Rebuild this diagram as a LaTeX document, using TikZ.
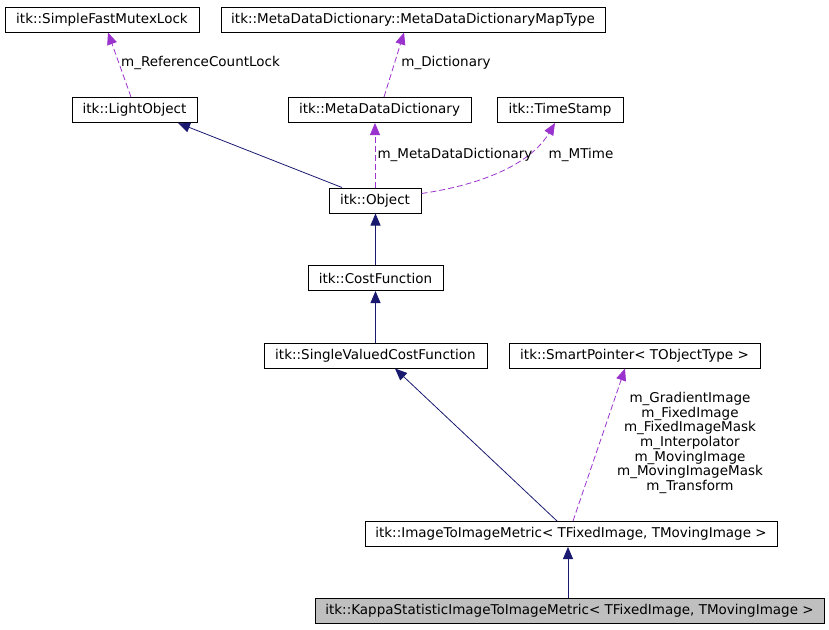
\documentclass[tikz,border=0pt]{standalone}
\usepackage{fontspec}
\setmainfont{DejaVu Sans}
\usetikzlibrary{arrows.meta}
\definecolor{navy}{HTML}{191970}
\definecolor{purp}{HTML}{9A32CD}
\definecolor{boxgray}{HTML}{BFBFBF}
\begin{document}
\begin{tikzpicture}[x=1pt,y=-1pt,
  cls/.style={draw=black, line width=1pt, inner sep=0pt, minimum height=25pt, font=\fontsize{13.5}{15}\selectfont, fill=white},
  inh/.style={draw=navy, line width=0.8pt, -{Triangle[length=12pt,width=10pt]}},
  use/.style={draw=purp, line width=0.8pt, dash pattern=on 6pt off 3pt, -{Triangle[length=12pt,width=10pt]}},
  lbl/.style={font=\fontsize{13.5}{14.7}\selectfont, inner sep=0pt, align=center}]
\useasboundingbox (0,0) rectangle (829,629);
\node[cls, minimum width=194pt] (sfml) at (102,19.5) {itk::SimpleFastMutexLock};
\node[cls, minimum width=384pt] (mapt) at (413,19.5) {itk::MetaDataDictionary::MetaDataDictionaryMapType};
\node[cls, minimum width=125pt] (lo) at (134.5,110) {itk::LightObject};
\node[cls, minimum width=183pt] (mdd) at (379.5,110) {itk::MetaDataDictionary};
\node[cls, minimum width=126pt] (ts) at (560,110) {itk::TimeStamp};
\node[cls, minimum width=92pt] (obj) at (375,200.5) {itk::Object};
\node[cls, minimum width=135pt] (cf) at (375.5,278) {itk::CostFunction};
\node[cls, minimum width=223pt] (svcf) at (375.5,355.5) {itk::SingleValuedCostFunction};
\node[cls, minimum width=251pt] (sp) at (634.5,355.5) {itk::SmartPointer< TObjectType >};
\node[cls, minimum width=412pt] (itim) at (571,534) {itk::ImageToImageMetric< TFixedImage, TMovingImage >};
\node[cls, minimum width=509pt, fill=boxgray] (kappa) at (569.5,611) {itk::KappaStatisticImageToImageMetric< TFixedImage, TMovingImage >};
% connectors
\draw[use] ([xshift=-3.5pt]lo.north) -- ([xshift=6pt]sfml.south);
\draw[use] ([xshift=4.5pt]mdd.north) -- ([xshift=-9pt]mapt.south);
\draw[inh] ([xshift=-33pt]obj.north) -- ([xshift=43.5pt]lo.south);
\draw[use] (obj.north) -- ([xshift=-4.5pt]mdd.south);
\draw[use] ([yshift=7pt]obj.east) .. controls (480,185) and (530,165) .. ([xshift=-5pt]ts.south);
\draw[inh] (cf.north) -- (cf.north |- obj.south);
\draw[inh] (svcf.north) -- (svcf.north |- cf.south);
\draw[inh] ([xshift=-14pt]itim.north) -- ([xshift=19.5pt]svcf.south);
\draw[use] ([xshift=2pt]itim.north) -- ([xshift=-9.5pt]sp.south);
\draw[inh] ([xshift=-1.5pt]kappa.north) -- ([xshift=-1.5pt]kappa.north |- itim.south);
% labels
\node[lbl] (l1) at (200.5,63) {m\_ReferenceCountLock};
\node[lbl] (l2) at (446,63) {m\_Dictionary};
\node[lbl] (l3) at (455,155) {m\_MetaDataDictionary};
\node[lbl] (l4) at (581,155) {m\_MTime};
\node[lbl] (l5) at (690,443) {m\_GradientImage\\m\_FixedImage\\m\_FixedImageMask\\m\_Interpolator\\m\_MovingImage\\m\_MovingImageMask\\m\_Transform};
\end{tikzpicture}
\end{document}
